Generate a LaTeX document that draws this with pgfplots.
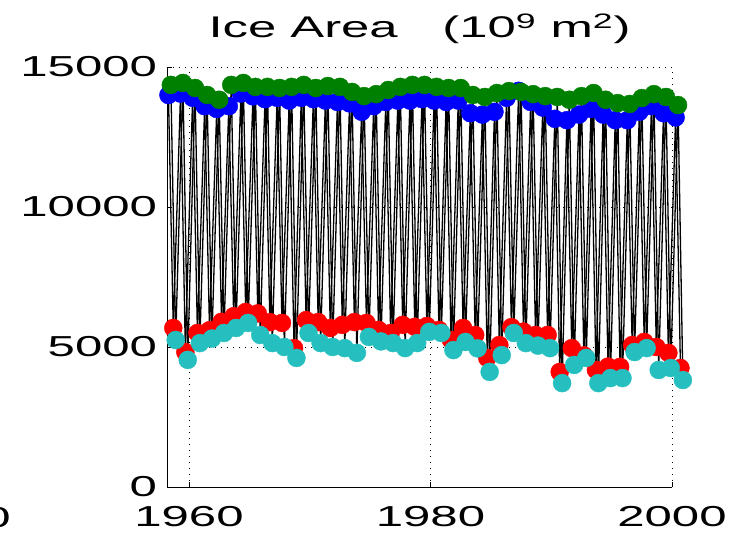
\documentclass[border=0pt]{standalone}
\usepackage{fontspec}
\setmainfont{Liberation Sans}
\usepackage{pgfplots}
\pgfplotsset{compat=1.18}
\usepackage{pgfplotstable}

\definecolor{icegreen}{rgb}{0,0.5,0}
\definecolor{icecyan}{rgb}{0.15,0.75,0.75}

% Annual extremes: model maximum (blue), observed maximum (green),
% model minimum (red), observed minimum (cyan)
\pgfplotstableread{
yr   blue  green red  cyan
1958 14000 14360 5680 5250
1959 14050 14430 4820 4540
1960 13900 14250 5500 5140
1961 13600 14000 5600 5300
1962 13500 13830 5900 5500
1963 13600 14360 6100 5680
1964 14050 14430 6250 5860
1965 13950 14290 6200 5430
1966 13850 14290 5890 5140
1967 13900 14250 5860 5000
1968 13800 14290 4960 4610
1969 13900 14360 5960 5500
1970 13850 14250 5890 5140
1971 13800 14320 5680 5000
1972 13750 14290 5790 4960
1973 13700 14110 5890 4790
1974 13400 13960 5860 5360
1975 13600 14030 5610 5200
1976 13750 14180 5500 5140
1977 13800 14290 5790 4960
1978 13800 14360 5720 5140
1979 13850 14360 5750 5540
1980 13800 14290 5610 5500
1981 13750 14250 5250 4890
1982 13800 14250 5680 5180
1983 13350 14000 5430 4950
1984 13300 13930 4610 4110
1985 13400 14070 5070 4710
1986 13900 14140 5710 5500
1987 14150 14110 5550 5140
1988 13750 14030 5430 5050
1989 13550 13960 5430 4960
1990 13150 13930 4110 3710
1991 13100 13830 4960 4360
1992 13300 13960 4700 4610
1993 13500 14070 4180 3710
1994 13300 13830 4300 3890
1995 13100 13710 4290 3890
1996 13100 13680 5070 4820
1997 13400 13890 5180 4960
1998 13600 14030 5000 4180
1999 13350 13930 4790 4250
2000 13200 13640 4250 3820
}\icedata

\begin{document}
\begin{tikzpicture}
\begin{axis}[
  at={(167bp,47bp)}, anchor=south west,
  scale only axis, width=505bp, height=420bp,
  xmin=1958.18, xmax=2000, ymin=0, ymax=15000,
  axis x line*=bottom, axis y line*=left,
  axis line style={-, line width=0.8bp},
  xtick={1960,1980,2000}, ytick={0,5000,10000,15000},
  tick align=inside, major tick length=5bp,
  tick style={black, line width=0.8bp},
  grid=major,
  grid style={black, line width=0.9bp, dash pattern=on 1.2bp off 4.8bp},
  /pgf/number format/assume math mode=true,
  /pgf/number format/set thousands separator={},
  scaled y ticks=false,
  tick label style={font=\fontsize{29}{33}\selectfont, xscale=1.7},
  yticklabel shift=4bp,
  xticklabel shift=16bp,
  clip=false,
  title={Ice Area\hspace{0.88em}(10\textsuperscript{9} m\textsuperscript{2})},
  title style={font=\fontsize{30}{34}\selectfont, xscale=1.7,
               at={(0.5,1)}, anchor=base, yshift=24bp},
]
% model seasonal cycle, annual turning points
\addplot[black, line width=1.3bp, mark=none] coordinates {
(1958.3,14000) (1958.7,5680) (1959.3,14050) (1959.7,4820)
(1960.3,13900) (1960.7,5500) (1961.3,13600) (1961.7,5600)
(1962.3,13500) (1962.7,5900) (1963.3,13600) (1963.7,6100)
(1964.3,14050) (1964.7,6250) (1965.3,13950) (1965.7,6200)
(1966.3,13850) (1966.7,5890) (1967.3,13900) (1967.7,5860)
(1968.3,13800) (1968.7,4960) (1969.3,13900) (1969.7,5960)
(1970.3,13850) (1970.7,5890) (1971.3,13800) (1971.7,5680)
(1972.3,13750) (1972.7,5790) (1973.3,13700) (1973.7,5890)
(1974.3,13400) (1974.7,5860) (1975.3,13600) (1975.7,5610)
(1976.3,13750) (1976.7,5500) (1977.3,13800) (1977.7,5790)
(1978.3,13800) (1978.7,5720) (1979.3,13850) (1979.7,5750)
(1980.3,13800) (1980.7,5610) (1981.3,13750) (1981.7,5250)
(1982.3,13800) (1982.7,5680) (1983.3,13350) (1983.7,5430)
(1984.3,13300) (1984.7,4610) (1985.3,13400) (1985.7,5070)
(1986.3,13900) (1986.7,5710) (1987.3,14150) (1987.7,5550)
(1988.3,13750) (1988.7,5430) (1989.3,13550) (1989.7,5430)
(1990.3,13150) (1990.7,4110) (1991.3,13100) (1991.7,4960)
(1992.3,13300) (1992.7,4700) (1993.3,13500) (1993.7,4180)
(1994.3,13300) (1994.7,4300) (1995.3,13100) (1995.7,4290)
(1996.3,13100) (1996.7,5070) (1997.3,13400) (1997.7,5180)
(1998.3,13600) (1998.7,5000) (1999.3,13350) (1999.7,4790)
(2000.3,13200) (2000.7,4250)
};
% observed seasonal cycle, annual turning points
\addplot[black, line width=1.3bp, mark=none] coordinates {
(1958.5,14360) (1958.9,5250) (1959.5,14430) (1959.9,4540)
(1960.5,14250) (1960.9,5140) (1961.5,14000) (1961.9,5300)
(1962.5,13830) (1962.9,5500) (1963.5,14360) (1963.9,5680)
(1964.5,14430) (1964.9,5860) (1965.5,14290) (1965.9,5430)
(1966.5,14290) (1966.9,5140) (1967.5,14250) (1967.9,5000)
(1968.5,14290) (1968.9,4610) (1969.5,14360) (1969.9,5500)
(1970.5,14250) (1970.9,5140) (1971.5,14320) (1971.9,5000)
(1972.5,14290) (1972.9,4960) (1973.5,14110) (1973.9,4790)
(1974.5,13960) (1974.9,5360) (1975.5,14030) (1975.9,5200)
(1976.5,14180) (1976.9,5140) (1977.5,14290) (1977.9,4960)
(1978.5,14360) (1978.9,5140) (1979.5,14360) (1979.9,5540)
(1980.5,14290) (1980.9,5500) (1981.5,14250) (1981.9,4890)
(1982.5,14250) (1982.9,5180) (1983.5,14000) (1983.9,4950)
(1984.5,13930) (1984.9,4110) (1985.5,14070) (1985.9,4710)
(1986.5,14140) (1986.9,5500) (1987.5,14110) (1987.9,5140)
(1988.5,14030) (1988.9,5050) (1989.5,13960) (1989.9,4960)
(1990.5,13930) (1990.9,3710) (1991.5,13830) (1991.9,4360)
(1992.5,13960) (1992.9,4610) (1993.5,14070) (1993.9,3710)
(1994.5,13830) (1994.9,3890) (1995.5,13710) (1995.9,3890)
(1996.5,13680) (1996.9,4820) (1997.5,13890) (1997.9,4960)
(1998.5,14030) (1998.9,4180) (1999.5,13930) (1999.9,4250)
(2000.5,13640) (2000.9,3820)
};
\addplot[only marks, mark=*, mark size=9bp, blue]
  table[x expr=\thisrow{yr}+0.3, y=blue] {\icedata};
\addplot[only marks, mark=*, mark size=9bp, icegreen]
  table[x expr=\thisrow{yr}+0.5, y=green] {\icedata};
\addplot[only marks, mark=*, mark size=9bp, red]
  table[x expr=\thisrow{yr}+0.7, y=red] {\icedata};
\addplot[only marks, mark=*, mark size=9bp, icecyan]
  table[x expr=\thisrow{yr}+0.9, y=cyan] {\icedata};
\end{axis}
% edge of the neighbouring panel's tick label
\node[font=\fontsize{29}{33}\selectfont, xscale=1.7, anchor=base] at (-3bp,7bp) {0};
\pgfresetboundingbox
\path[use as bounding box] (0,0) rectangle (732bp,534bp);
\end{tikzpicture}
\end{document}
